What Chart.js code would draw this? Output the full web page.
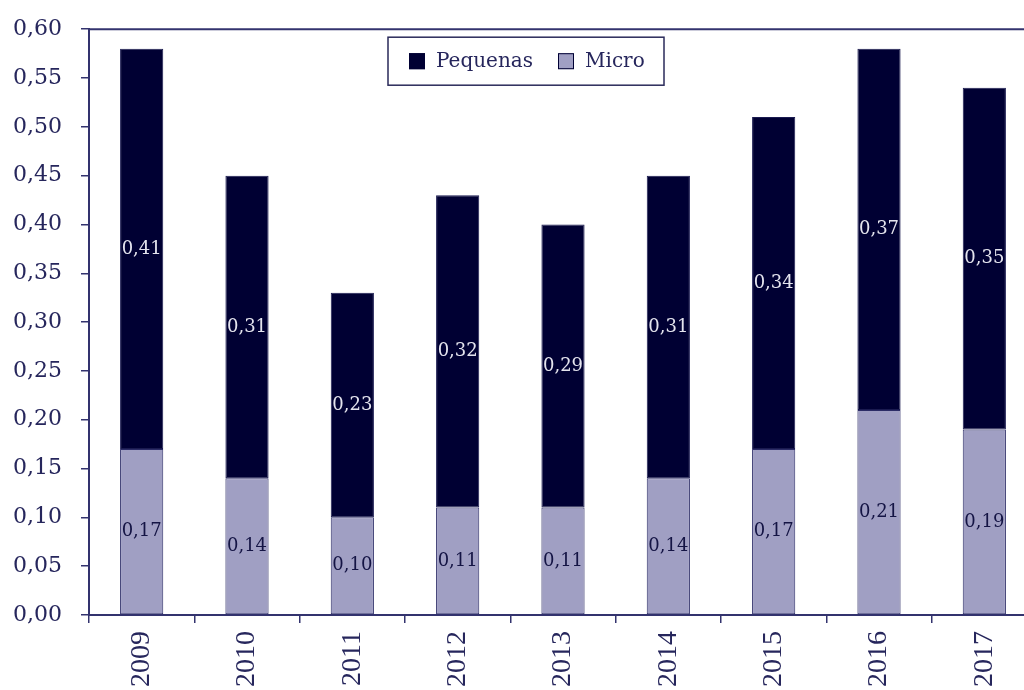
<!DOCTYPE html>
<html>
<head>
<meta charset="utf-8">
<script src="https://cdn.jsdelivr.net/npm/chart.js@4.4.1/dist/chart.umd.min.js"></script>
<style>
  html, body { margin: 0; padding: 0; background: #ffffff; overflow: hidden; }
  #wrap { width: 1040px; height: 693px; position: relative; margin-top: -3px; }
</style>
</head>
<body>
<div id="wrap"><canvas id="chart"></canvas></div>
<script>
// Años y participación por tamaño de empresa
const years = ['2009', '2010', '2011', '2012', '2013', '2014', '2015', '2016', '2017'];
const micro = [0.17, 0.14, 0.10, 0.11, 0.11, 0.14, 0.17, 0.21, 0.19];
const pequenas = [0.41, 0.31, 0.23, 0.32, 0.29, 0.31, 0.34, 0.37, 0.35];
const yTicks = [0, 0.05, 0.10, 0.15, 0.20, 0.25, 0.30, 0.35, 0.40, 0.45, 0.50, 0.55, 0.60];

const NAVY = '#000033';
const LILAC = '#a09fc3';
const AXIS = '#33336e';
const TEXT = '#26265c';

const fmt = v => v.toFixed(2).replace('.', ',');

// Value labels centred in each stacked segment
const segmentLabels = {
  id: 'segmentLabels',
  afterDatasetsDraw(chart) {
    const ctx = chart.ctx;
    ctx.save();
    ctx.font = '18px "DejaVu Serif"';
    ctx.textAlign = 'center';
    ctx.textBaseline = 'middle';
    chart.data.datasets.forEach((ds, i) => {
      const meta = chart.getDatasetMeta(i);
      ctx.fillStyle = ds.labelColor;
      meta.data.forEach((el, j) => {
        const yMid = (el.y + el.base) / 2;
        ctx.fillText(fmt(ds.data[j]), el.x, yMid);
      });
    });
    ctx.restore();
  }
};

// Top frame line and boxed legend inside the plot
const frameAndLegend = {
  id: 'frameAndLegend',
  afterDraw(chart) {
    const ctx = chart.ctx;
    const a = chart.chartArea;
    ctx.save();
    ctx.strokeStyle = AXIS;
    ctx.lineWidth = 2;
    ctx.beginPath();
    ctx.moveTo(a.left, a.top);
    ctx.lineTo(a.right + 5, a.top);
    ctx.stroke();

    const bx = a.left + 299, by = a.top + 8, bw = 276, bh = 48;
    ctx.lineWidth = 1.5;
    ctx.strokeStyle = '#2a2a5a';
    ctx.strokeRect(bx, by, bw, bh);

    ctx.font = '20px "DejaVu Serif"';
    ctx.textBaseline = 'middle';
    ctx.textAlign = 'left';
    const items = chart.data.datasets.slice().reverse();
    const offsets = [21, 170];
    items.forEach((ds, k) => {
      const sx = bx + offsets[k];
      const sy = by + bh / 2 - 8;
      ctx.fillStyle = ds.backgroundColor;
      ctx.fillRect(sx, sy, 16, 16);
      ctx.lineWidth = 1;
      ctx.strokeStyle = NAVY;
      ctx.strokeRect(sx + 0.5, sy + 0.5, 15, 15);
      ctx.fillStyle = TEXT;
      ctx.fillText(ds.label, sx + 27, by + bh / 2 + 1);
    });
    ctx.restore();
  }
};

new Chart(document.getElementById('chart'), {
  type: 'bar',
  data: {
    labels: years,
    datasets: [
      {
        label: 'Micro',
        data: micro,
        backgroundColor: LILAC,
        borderColor: '#2c2c66',
        borderWidth: 1,
        borderSkipped: false,
        labelColor: '#141444'
      },
      {
        label: 'Pequenas',
        data: pequenas,
        backgroundColor: NAVY,
        borderColor: '#1a1a50',
        borderWidth: 1,
        borderSkipped: false,
        labelColor: '#e4e4ee'
      }
    ]
  },
  options: {
    responsive: true,
    maintainAspectRatio: false,
    animation: false,
    layout: { padding: { top: 16, right: 3, left: 0, bottom: 0 } },
    plugins: {
      legend: { display: false },
      tooltip: { enabled: false }
    },
    datasets: {
      bar: { barPercentage: 0.41, categoryPercentage: 1.0 }
    },
    scales: {
      x: {
        stacked: true,
        afterFit(scale) { scale.height = 75; },
        grid: {
          display: true,
          drawOnChartArea: false,
          drawTicks: true,
          tickLength: 8,
          color: AXIS,
          lineWidth: 1.5,
          offset: true
        },
        border: { display: true, color: AXIS, width: 2 },
        ticks: {
          minRotation: 90,
          maxRotation: 90,
          padding: 8,
          color: TEXT,
          font: { family: '"Liberation Serif"', size: 28 }
        }
      },
      y: {
        stacked: true,
        min: 0,
        max: 0.6,
        afterFit(scale) { scale.width = 89; },
        afterBuildTicks(scale) { scale.ticks = yTicks.map(v => ({ value: v })); },
        grid: {
          display: true,
          drawOnChartArea: false,
          drawTicks: true,
          tickLength: 8,
          color: AXIS,
          lineWidth: 1.5
        },
        border: { display: true, color: AXIS, width: 2 },
        ticks: {
          padding: 19,
          color: TEXT,
          font: { family: '"DejaVu Serif"', size: 22 },
          callback: v => fmt(v)
        }
      }
    }
  },
  plugins: [segmentLabels, frameAndLegend]
});
</script>
</body>
</html>
